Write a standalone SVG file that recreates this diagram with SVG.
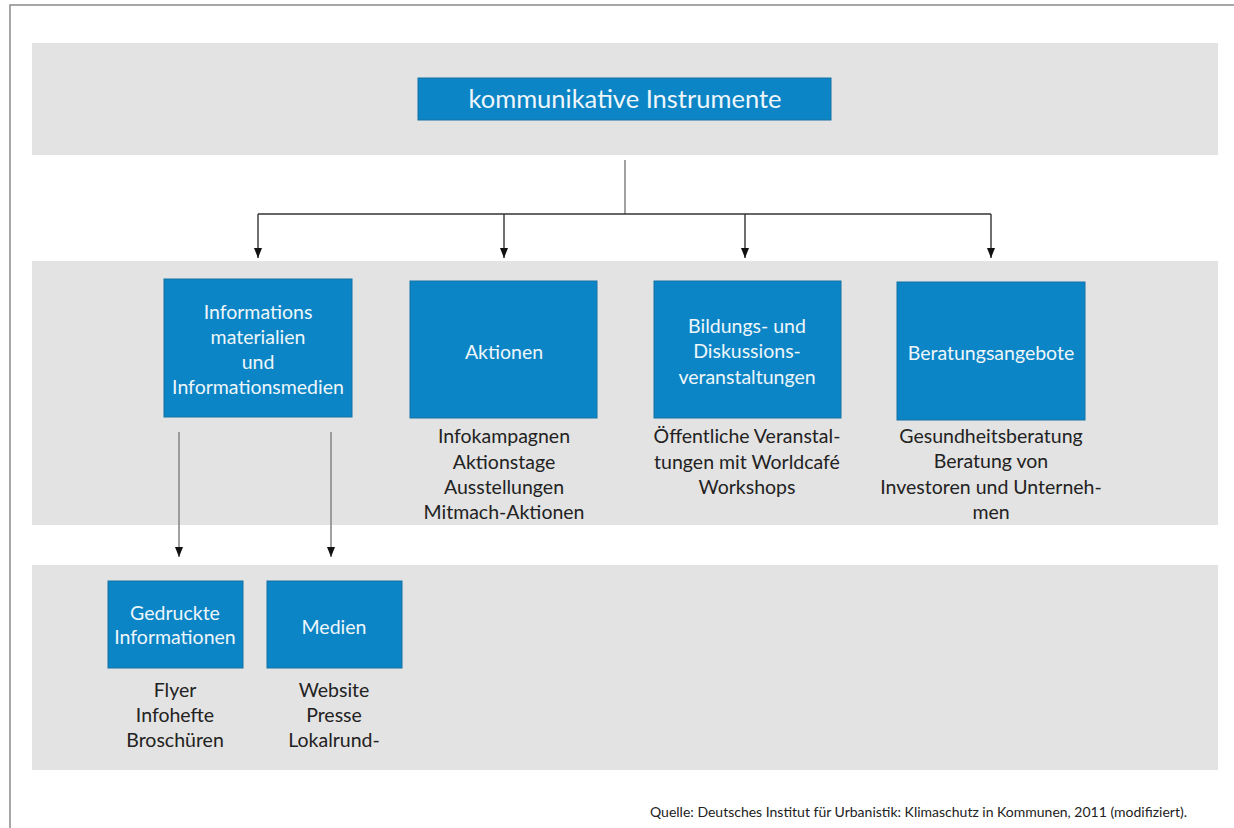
<svg xmlns="http://www.w3.org/2000/svg" width="1234" height="828" viewBox="0 0 1234 828">
<style>
.band{fill:#e3e3e3}
.box{fill:#0b85c5;stroke:#1670a3;stroke-width:1}
.bt{font-family:Lato,"Open Sans","Liberation Sans",sans-serif;font-size:19.5px;fill:#eef6fb;text-anchor:middle}
.st{font-family:Lato,"Open Sans","Liberation Sans",sans-serif;font-size:19.5px;fill:#222;text-anchor:middle}
.ln{stroke:#333;stroke-width:1.4;fill:none}
.lg{stroke:#8a8a8a;stroke-width:1.6;fill:none}
</style>
<defs>
<marker id="ad" markerWidth="10" markerHeight="12" refX="10" refY="5" orient="auto" markerUnits="userSpaceOnUse" viewBox="0 0 10 10">
<path d="M0,1 L10,5 L0,9 Z" fill="#111"/>
</marker>
</defs>
<rect width="1234" height="828" fill="#fff"/>
<path d="M10,828 L10,5 L1234,5" stroke="#8a8a8a" stroke-width="1.5" fill="none"/>
<rect class="band" x="32" y="43" width="1186" height="112"/>
<rect class="band" x="32" y="261" width="1186" height="264"/>
<rect class="band" x="32" y="565" width="1186" height="205"/>
<g id="connectors">
<line class="lg" x1="625" y1="160" x2="625" y2="214"/>
<line class="ln" x1="258" y1="214" x2="991" y2="214"/>
<line class="ln" x1="258" y1="214" x2="258" y2="258" marker-end="url(#ad)"/>
<line class="ln" x1="504" y1="214" x2="504" y2="258" marker-end="url(#ad)"/>
<line class="ln" x1="745" y1="214" x2="745" y2="258" marker-end="url(#ad)"/>
<line class="ln" x1="991" y1="214" x2="991" y2="258" marker-end="url(#ad)"/>
<line class="lg" x1="179" y1="432" x2="179" y2="557" marker-end="url(#ad)"/>
<line class="lg" x1="331" y1="432" x2="331" y2="557" marker-end="url(#ad)"/>
</g>
<g id="n-root">
<rect class="box" x="418" y="78" width="413" height="42"/>
<text class="bt" x="625" y="108" style="font-size:25.5px">kommunikative Instrumente</text>
</g>
<g id="n-info">
<rect class="box" x="164" y="279" width="188" height="138"/>
<text class="bt" x="258" y="319">Informations</text>
<text class="bt" x="258" y="344">materialien</text>
<text class="bt" x="258" y="369">und</text>
<text class="bt" x="258" y="394">Informationsmedien</text>
</g>
<g id="n-aktionen">
<rect class="box" x="410" y="281" width="187" height="137"/>
<text class="bt" x="504" y="359">Aktionen</text>
<text class="st" x="504" y="443">Infokampagnen</text>
<text class="st" x="504" y="469">Aktionstage</text>
<text class="st" x="504" y="494">Ausstellungen</text>
<text class="st" x="504" y="519">Mitmach-Aktionen</text>
</g>
<g id="n-bildung">
<rect class="box" x="654" y="281" width="187" height="137"/>
<text class="bt" x="747" y="333">Bildungs- und</text>
<text class="bt" x="747" y="358">Diskussions-</text>
<text class="bt" x="747" y="384">veranstaltungen</text>
<text class="st" x="747" y="443">Öffentliche Veranstal-</text>
<text class="st" x="747" y="469">tungen mit Worldcafé</text>
<text class="st" x="747" y="494">Workshops</text>
</g>
<g id="n-beratung">
<rect class="box" x="897" y="282" width="188" height="138"/>
<text class="bt" x="991" y="360">Beratungsangebote</text>
<text class="st" x="991" y="443">Gesundheitsberatung</text>
<text class="st" x="991" y="468">Beratung von</text>
<text class="st" x="991" y="494">Investoren und Unterneh-</text>
<text class="st" x="991" y="519">men</text>
</g>
<g id="n-gedruckt">
<rect class="box" x="108" y="581" width="135" height="87"/>
<text class="bt" x="175" y="620">Gedruckte</text>
<text class="bt" x="175" y="644">Informationen</text>
<text class="st" x="175" y="697">Flyer</text>
<text class="st" x="175" y="722">Infohefte</text>
<text class="st" x="175" y="747">Broschüren</text>
</g>
<g id="n-medien">
<rect class="box" x="267" y="581" width="135" height="87"/>
<text class="bt" x="334" y="634">Medien</text>
<text class="st" x="334" y="697">Website</text>
<text class="st" x="334" y="722">Presse</text>
<text class="st" x="334" y="747">Lokalrund-</text>
</g>
<text x="650" y="817" style="font-family:Lato,'Open Sans','Liberation Sans',sans-serif;font-size:14px;fill:#222">Quelle: Deutsches Institut für Urbanistik: Klimaschutz in Kommunen, 2011 (modifiziert).</text>
</svg>
